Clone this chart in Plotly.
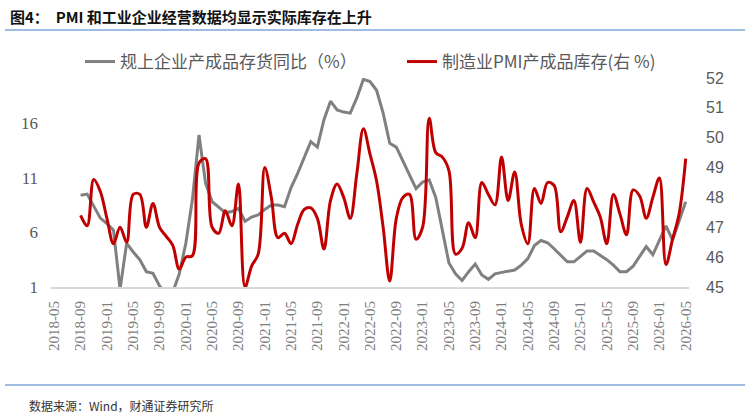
import plotly.graph_objects as go
import pandas as pd

# Category axis: monthly labels
all_months = [p.strftime("%Y-%m") for p in pd.period_range("2018-05", "2026-05", freq="M")]
tick_labels = all_months[::4]

# 规上企业产成品存货同比（%） — from 2018-09 to 2026-05
inventory_yoy = [
    9.4, 9.5, 8.4, 7.3, 6.8, 6.2, 0.8, 5.0, 4.2, 3.5, 2.4, 2.25,
    1.1, 0.4, 0.5, 2.2, 5.0, 9.0, 14.9, 10.5, 8.8, 8.3, 7.8, 7.9,
    8.2, 7.0, 7.4, 7.6, 8.1, 8.5, 8.5, 8.35, 10.1, 11.4, 12.8, 14.3,
    13.8, 16.3, 18.0, 17.2, 17.0, 16.9, 18.3, 20.0, 19.8, 19.0, 16.9, 14.15,
    13.8, 12.5, 11.2, 10.0, 10.6, 10.8, 9.2, 6.2, 3.2, 2.2, 1.6, 2.4,
    3.1, 2.1, 1.7, 2.2, 2.35, 2.45, 2.55, 3.0, 3.6, 4.8, 5.25, 5.05,
    4.5, 3.9, 3.3, 3.3, 3.8, 4.3, 4.3, 3.9, 3.5, 3.0, 2.4, 2.4,
    2.9, 3.8, 4.7, 3.95, 5.3, 6.6, 5.3, 7.0, 8.8,
]

# 制造业PMI产成品库存(右 %) — from 2018-09 to 2026-05
pmi_inventory = [
    47.4, 47.05, 48.6, 48.2, 47.3, 46.45, 47.0, 46.5, 48.1, 48.1, 47.0, 47.8,
    47.0, 46.7, 46.4, 45.6, 46.0, 46.05, 49.15, 49.3, 47.0, 46.8, 47.55, 47.05,
    48.45, 45.0, 45.7, 46.1, 49.0, 48.0, 46.65, 46.8, 46.45, 47.1, 47.6, 47.65,
    47.3, 46.27, 47.9, 48.45, 48.0, 47.3, 48.8, 50.3, 49.45, 48.55, 47.0, 45.2,
    47.3, 48.0, 48.1, 46.6, 47.0, 50.65, 49.5, 49.35, 48.9, 46.1, 46.3, 47.15,
    46.65, 48.5, 48.1, 47.75, 49.35, 47.9, 48.85, 47.1, 46.45, 48.3, 47.8, 48.5,
    48.4, 46.85, 47.35, 47.9, 46.5, 48.3, 47.85, 47.35, 46.45, 48.1, 47.45, 46.75,
    48.25, 48.05, 47.3, 48.0, 48.65, 45.75, 46.6, 47.45, 49.3,
]

x_gray = all_months[len(all_months) - len(inventory_yoy):]
x_red = all_months[len(all_months) - len(pmi_inventory):]

W, H = 748, 417
ML, MR, MT, MB = 51, 59, 78, 130


def px_x(p):
    return (p - ML) / (W - ML - MR)


def px_y(p):
    return (H - MB - p) / (H - MT - MB)


fig = go.Figure()
fig.add_trace(go.Scatter(
    x=x_gray, y=inventory_yoy, name="规上企业产成品存货同比（%）",
    mode="lines", line=dict(color="#808080", width=3), yaxis="y", legend="legend",
))
fig.add_trace(go.Scatter(
    x=x_red, y=pmi_inventory, name="制造业PMI产成品库存(右 %)",
    mode="lines", line=dict(color="#C00000", width=3, shape="spline", smoothing=1.0),
    yaxis="y2", legend="legend2",
))

legend_font = dict(family="Noto Sans CJK SC", size=17, color="#595959")

fig.update_layout(
    width=W, height=H,
    margin=dict(l=ML, r=MR, t=MT, b=MB),
    paper_bgcolor="white", plot_bgcolor="white",
    font=dict(family="Noto Sans CJK SC", color="#595959"),
    showlegend=True,
    legend=dict(
        orientation="h", x=px_x(80), xanchor="left", y=px_y(62), yanchor="middle",
        font=legend_font, bgcolor="rgba(0,0,0,0)",
    ),
    legend2=dict(
        orientation="h", x=px_x(402), xanchor="left", y=px_y(62), yanchor="middle",
        font=legend_font, bgcolor="rgba(0,0,0,0)",
    ),
    xaxis=dict(
        type="category", categoryorder="array", categoryarray=all_months,
        range=[-0.5, len(all_months) - 0.5],
        tickmode="array", tickvals=tick_labels, ticktext=tick_labels,
        tickangle=-90, tickfont=dict(family="Liberation Serif", size=15, color="#7F7F7F"),
        showgrid=False, zeroline=False,
        showline=True, linecolor="#D9D9D9", linewidth=2,
        ticks="", ticklabelstandoff=6,
    ),
    yaxis=dict(
        range=[1, 20.12], tickvals=[1, 6, 11, 16], showgrid=False, zeroline=False,
        showline=False, tickfont=dict(family="Liberation Serif", size=17, color="#595959"),
        ticklabelstandoff=12,
    ),
    yaxis2=dict(
        range=[45, 52], dtick=1, overlaying="y", side="right", showgrid=False,
        zeroline=False, showline=False,
        tickfont=dict(family="Liberation Sans", size=16, color="#595959"),
        ticklabelstandoff=16,
    ),
    shapes=[
        dict(type="line", xref="paper", yref="paper", x0=px_x(5), x1=px_x(745),
             y0=px_y(30), y1=px_y(30), line=dict(color="#7FA7D8", width=1.5)),
        dict(type="line", xref="paper", yref="paper", x0=px_x(5), x1=px_x(745),
             y0=px_y(385), y1=px_y(385), line=dict(color="#7FA7D8", width=1.5)),
    ],
    annotations=[
        dict(text="<b>图4：  PMI 和工业企业经营数据均显示实际库存在上升</b>",
             xref="paper", yref="paper", x=px_x(8), y=px_y(16), xanchor="left", yanchor="middle",
             showarrow=False, font=dict(family="Noto Sans CJK SC", size=15, color="#111111")),
        dict(text="数据来源：Wind，财通证券研究所",
             xref="paper", yref="paper", x=px_x(27), y=px_y(405), xanchor="left", yanchor="middle",
             showarrow=False, font=dict(family="Noto Sans CJK SC", size=12, color="#333333")),
    ],
)

fig.write_html("out.html")
